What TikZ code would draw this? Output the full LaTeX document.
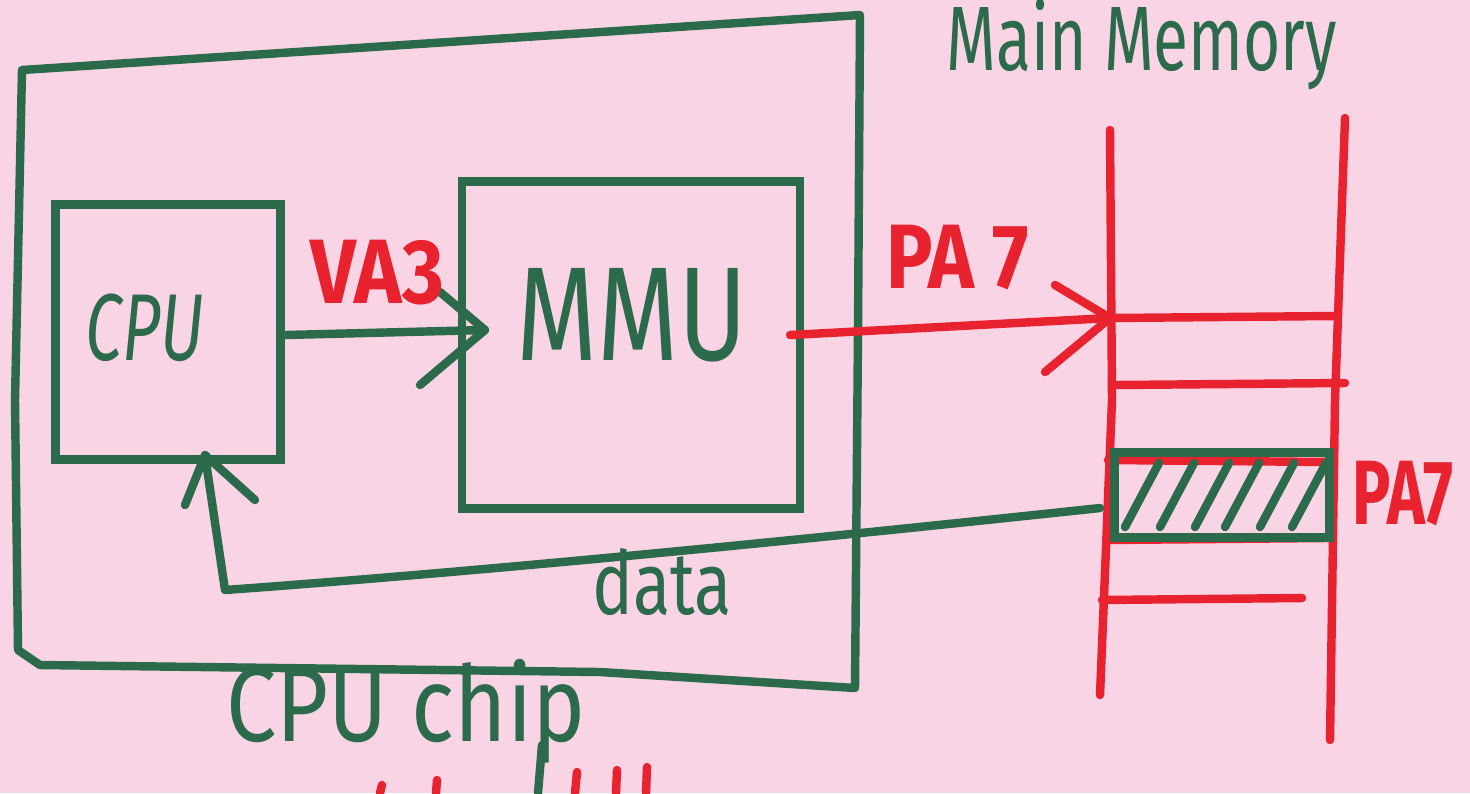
\documentclass[tikz,border=0pt]{standalone}
\usepackage{fontspec}
\setmainfont{Fira Sans}
\newfontfamily\handA[FakeStretch=0.70]{Fira Sans}
\newfontfamily\handB[FakeStretch=0.78]{Fira Sans}
\newfontfamily\handC[FakeStretch=0.85]{Fira Sans}
\newfontfamily\handD[FakeStretch=0.88]{Fira Sans}
\definecolor{bgpink}{HTML}{F9D4E4}
\definecolor{pen}{HTML}{2C6A4C}
\definecolor{redpen}{HTML}{E8222F}
\tikzset{
  gline/.style={draw=pen, line width=2.4pt, line cap=round, line join=round},
  rline/.style={draw=redpen, line width=2.4pt, line cap=round, line join=round},
  glabel/.style={text=pen, inner sep=0pt},
  rlabel/.style={text=redpen, inner sep=0pt},
}
\begin{document}
\begin{tikzpicture}[x=0.01cm, y=-0.01cm]
\fill[bgpink] (0,0) rectangle (1470,793);
\useasboundingbox (0,0) rectangle (1470,793);

% CPU chip outer box
\draw[gline] (22,70) -- (860,15) -- (858,330) -- (855,688) -- (600,672) -- (40,665) -- (18,650) -- (15,400) -- (22,70);
\node[glabel, font=\handC\fontsize{30}{32}\selectfont] (chiplbl) at (406,712) {CPU chip};
\draw[gline] (542,745) -- (538,793);

% CPU box
\node[draw=pen, line width=2.4pt, minimum width=2.25cm, minimum height=2.55cm, inner sep=0pt] (cpu) at (168,332) {};
\node[glabel, font=\handA\fontsize{27}{29}\selectfont\itshape] (cpulbl) at (145,328) {CPU};

% MMU box
\node[draw=pen, line width=2.4pt, minimum width=3.38cm, minimum height=3.27cm, inner sep=0pt] (mmu) at (631,345) {};
\node[glabel, font=\handB\fontsize{38}{40}\selectfont] (mmulbl) at (632,315) {MMU};

% VA arrow
\coordinate (vastart) at (285,335);
\coordinate (vatip) at (485,330);
\draw[gline] (vastart) -- (vatip);
\draw[gline] (440,292) -- (vatip) -- (420,385);
\node[rlabel, font=\handD\fontsize{26}{28}\selectfont\bfseries] (va) at (377,273) {VA3};

% Main memory
\node[glabel, font=\handA\fontsize{26}{28}\selectfont] (mmlbl) at (1142,45) {Main Memory};
\coordinate (mleftT) at (1110,130);
\coordinate (mleftB) at (1100,695);
\coordinate (mrightT) at (1345,118);
\coordinate (mrightB) at (1330,740);
\draw[rline] (mleftT) -- (1112,400) -- (mleftB);
\draw[rline] (mrightT) -- (1335,400) -- (mrightB);
\draw[rline] (1110,318) -- (1335,316);
\draw[rline] (1115,385) -- (1345,383);
\draw[rline] (1108,460) -- (1330,462);
\draw[rline] (1108,540) -- (1325,538);
\draw[rline] (1102,600) -- (1302,598);

% PA arrow
\coordinate (pastart) at (790,335);
\coordinate (patip) at (1110,318);
\draw[rline] (pastart) -- (patip);
\draw[rline] (1055,285) -- (patip) -- (1045,372);
\node[rlabel, font=\handC\fontsize{26}{28}\selectfont\bfseries] (pa) at (958,258) {PA 7};

% Hatched block
\node[draw=pen, line width=2.4pt, minimum width=2.15cm, minimum height=0.85cm, inner sep=0pt] (blk) at (1222,495) {};
\foreach \x in {1125,1160,1195,1225,1260,1292} {
  \draw[gline] (\x,527) -- (\x+34,463);
}
\node[rlabel, font=\handA\fontsize{26}{28}\selectfont\bfseries] (pa7) at (1403,494) {PA7};

% data arrow
\coordinate (dtail) at (1100,508);
\coordinate (dcorner) at (225,590);
\coordinate (dtip) at (205,455);
\draw[gline] (dtail) .. controls (800,540) and (500,570) .. (dcorner) -- (dtip);
\draw[gline] (185,505) -- (dtip) -- (255,500);
\node[glabel, font=\handB\fontsize{25}{27}\selectfont] (datalbl) at (662,582) {data};

% cut-off red marks at bottom edge
\draw[rline] (382,785) -- (380,793);
\draw[rline] (437,780) -- (436,793);
\draw[rline] (577,772) -- (575,793);
\draw[rline] (617,770) -- (616,793);
\draw[rline] (647,767) -- (646,793);
\end{tikzpicture}
\end{document}
